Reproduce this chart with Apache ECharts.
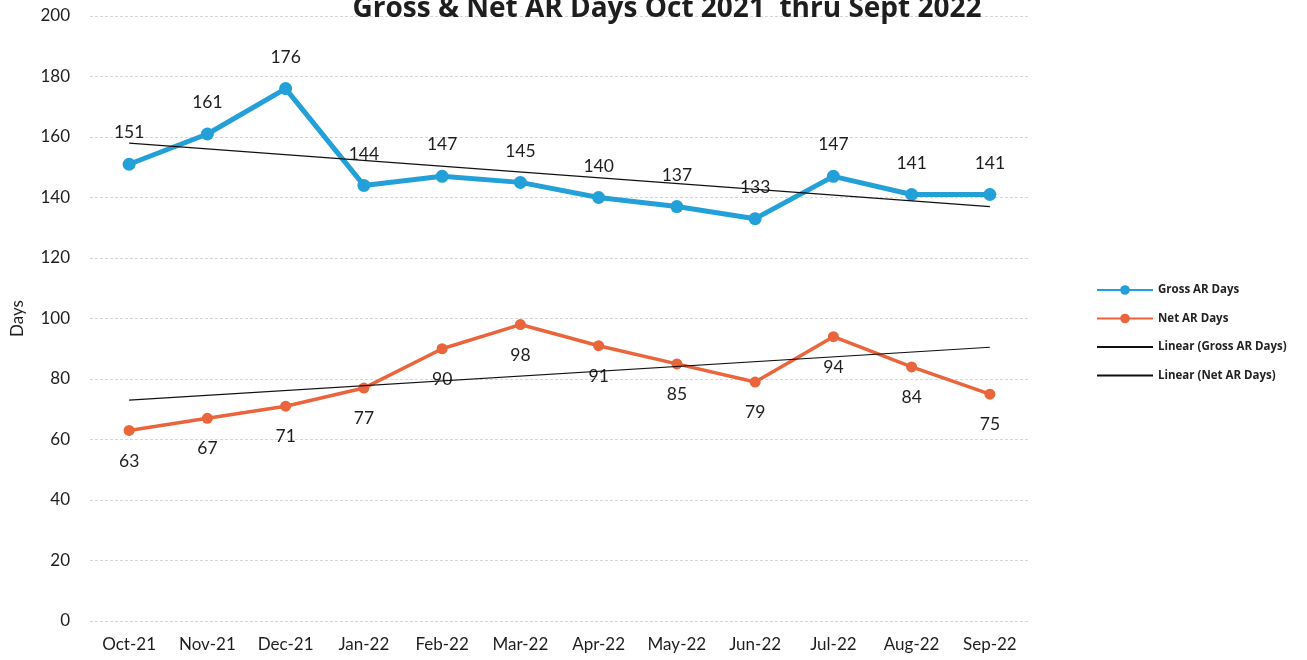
<!DOCTYPE html>
<html>
<head>
<meta charset="utf-8">
<title>Gross & Net AR Days</title>
<script src="https://cdn.jsdelivr.net/npm/echarts@6/dist/echarts.min.js"></script>
<style>
  html, body { margin: 0; padding: 0; background: #ffffff; }
  #chart { width: 1307px; height: 660px; }
</style>
</head>
<body>
<div id="chart"></div>
<script>
// Monthly AR days, Oct 2021 – Sep 2022
var months = ['Oct-21', 'Nov-21', 'Dec-21', 'Jan-22', 'Feb-22', 'Mar-22', 'Apr-22', 'May-22', 'Jun-22', 'Jul-22', 'Aug-22', 'Sep-22'];
var grossDays = [151, 161, 176, 144, 147, 145, 140, 137, 133, 147, 141, 141];
var netDays = [63, 67, 71, 77, 90, 98, 91, 85, 79, 94, 84, 75];

// Linear trend lines: end points at the first and last month
var grossTrend = [158, null, null, null, null, null, null, null, null, null, null, 137];
var netTrend = [73, null, null, null, null, null, null, null, null, null, null, 90.5];

var yTicks = { min: 0, max: 200, interval: 20 };

var FONT = 'Lato, "Open Sans", sans-serif';
var TEXT = '#1e1e1e';

var chart = echarts.init(document.getElementById('chart'), null, { renderer: 'canvas' });

chart.setOption({
  backgroundColor: '#ffffff',
  animation: false,
  title: {
    text: 'Gross & Net AR Days Oct 2021  thru Sept 2022',
    left: 662,
    textAlign: 'center',
    top: -10,
    textStyle: { fontFamily: '"Open Sans", Lato, sans-serif', fontSize: 28, fontWeight: 'bold', color: '#1e1e1e' }
  },
  legend: {
    orient: 'vertical',
    left: 1091,
    top: 279,
    itemWidth: 56,
    itemHeight: 12,
    itemGap: 16.5,
    textStyle: { fontFamily: '"Open Sans", Lato, sans-serif', fontSize: 11.5, fontWeight: 'bold', color: '#222' },
    data: [
      { name: 'Gross AR Days' },
      { name: 'Net AR Days' },
      { name: 'Linear (Gross AR Days)', itemStyle: { opacity: 0 } },
      { name: 'Linear (Net AR Days)', itemStyle: { opacity: 0 } }
    ]
  },
  grid: { left: 90, right: 278, top: 16, bottom: 39 },
  xAxis: {
    type: 'category',
    data: months,
    boundaryGap: true,
    axisLine: { show: false },
    axisTick: { show: false },
    axisLabel: { fontFamily: FONT, fontSize: 17, color: TEXT, margin: 15 }
  },
  yAxis: {
    type: 'value',
    min: yTicks.min,
    max: yTicks.max,
    interval: yTicks.interval,
    name: 'Days',
    nameLocation: 'middle',
    nameGap: 64,
    nameRotate: 90,
    nameTextStyle: { fontFamily: FONT, fontSize: 17, color: TEXT },
    axisLine: { show: false },
    axisTick: { show: false },
    axisLabel: { fontFamily: FONT, fontSize: 17, color: TEXT, margin: 20 },
    splitLine: { lineStyle: { color: '#d6d6d6', width: 1, type: [3, 2] } }
  },
  series: [
    {
      name: 'Gross AR Days',
      type: 'line',
      data: grossDays,
      z: 3,
      symbol: 'circle',
      symbolSize: 13,
      itemStyle: { color: '#24a0d8' },
      lineStyle: { color: '#24a0d8', width: 5 },
      label: {
        show: true,
        position: 'top',
        distance: 16,
        fontFamily: FONT,
        fontSize: 17.5,
        color: TEXT
      }
    },
    {
      name: 'Net AR Days',
      type: 'line',
      data: netDays,
      z: 3,
      symbol: 'circle',
      symbolSize: 11,
      itemStyle: { color: '#ea643c' },
      lineStyle: { color: '#ea643c', width: 3.5 },
      label: {
        show: true,
        position: 'bottom',
        distance: 16,
        fontFamily: FONT,
        fontSize: 17.5,
        color: TEXT
      }
    },
    {
      name: 'Linear (Gross AR Days)',
      type: 'line',
      data: grossTrend,
      connectNulls: true,
      showSymbol: false,
      symbol: 'none',
      z: 4,
      itemStyle: { color: '#111' },
      lineStyle: { color: '#111', width: 1.2 }
    },
    {
      name: 'Linear (Net AR Days)',
      type: 'line',
      data: netTrend,
      connectNulls: true,
      showSymbol: false,
      symbol: 'none',
      z: 4,
      itemStyle: { color: '#111' },
      lineStyle: { color: '#111', width: 1.2 }
    }
  ]
});
</script>
</body>
</html>
